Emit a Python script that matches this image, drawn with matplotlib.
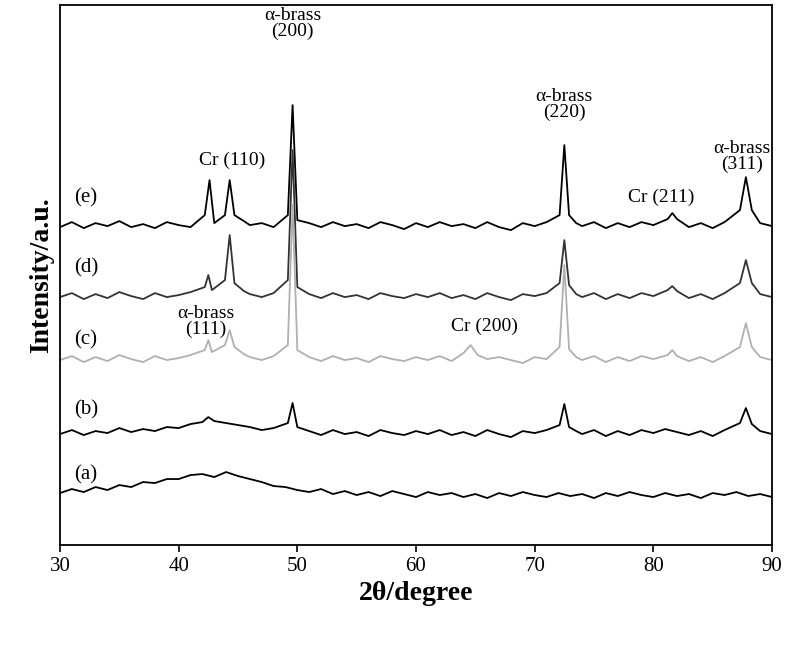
import matplotlib
matplotlib.use('Agg')
import matplotlib.pyplot as plt

plt.rcParams['font.family'] = ['Liberation Serif', 'DejaVu Serif']

# intensity in arbitrary units (offset traces)
x_e = [30, 31, 32, 33, 34, 35, 36, 37, 38, 39, 40, 41, 42.2, 42.6, 43.0, 43.9, 44.3, 44.7, 45.5, 46, 47, 48, 49.2, 49.6, 50.0, 51, 52, 53, 54, 55, 56, 57, 58, 59, 60, 61, 62, 63, 64, 65, 66, 67, 68, 69, 70, 71, 72.1, 72.5, 72.9, 73.5, 74, 75, 76, 77, 78, 79, 80, 81.2, 81.6, 82.0, 83, 84, 85, 86, 87.3, 87.8, 88.3, 89, 90]
y_e = [318, 323, 317, 322, 319, 324, 318, 321, 317, 323, 320, 318, 330, 365, 322, 330, 365, 330, 324, 320, 322, 318, 330, 440, 325, 322, 318, 323, 319, 321, 317, 323, 320, 316, 322, 318, 323, 319, 321, 317, 323, 318, 315, 322, 319, 323, 330, 400, 330, 322, 319, 323, 317, 322, 318, 323, 320, 326, 332, 326, 318, 322, 317, 323, 335, 368, 335, 322, 319]

x_d = [30, 31, 32, 33, 34, 35, 36, 37, 38, 39, 40, 41, 42.2, 42.5, 42.8, 43.9, 44.3, 44.7, 45.5, 46, 47, 48, 49.2, 49.6, 50.0, 51, 52, 53, 54, 55, 56, 57, 58, 59, 60, 61, 62, 63, 64, 65, 66, 67, 68, 69, 70, 71, 72.1, 72.5, 72.9, 73.5, 74, 75, 76, 77, 78, 79, 80, 81.2, 81.6, 82.0, 83, 84, 85, 86, 87.3, 87.8, 88.3, 89, 90]
y_d = [248, 252, 246, 251, 247, 253, 249, 246, 252, 248, 250, 253, 258, 270, 255, 265, 310, 262, 254, 251, 248, 252, 265, 395, 258, 251, 247, 252, 248, 250, 246, 252, 249, 247, 251, 248, 252, 247, 250, 246, 252, 248, 245, 251, 249, 252, 262, 305, 260, 251, 248, 252, 246, 251, 247, 252, 249, 255, 259, 254, 247, 251, 246, 252, 262, 285, 262, 251, 248]

x_c = [30, 31, 32, 33, 34, 35, 36, 37, 38, 39, 40, 41, 42.2, 42.5, 42.8, 43.9, 44.3, 44.7, 45.5, 46, 47, 48, 49.2, 49.6, 50.0, 51, 52, 53, 54, 55, 56, 57, 58, 59, 60, 61, 62, 63, 64, 64.6, 65.2, 66, 67, 68, 69, 70, 71, 72.1, 72.5, 72.9, 73.5, 74, 75, 76, 77, 78, 79, 80, 81.2, 81.6, 82.0, 83, 84, 85, 86, 87.3, 87.8, 88.3, 89, 90]
y_c = [185, 189, 183, 188, 184, 190, 186, 183, 189, 185, 187, 190, 195, 205, 193, 200, 215, 198, 191, 188, 185, 189, 200, 340, 195, 188, 184, 189, 185, 187, 183, 189, 186, 184, 188, 185, 189, 184, 192, 200, 190, 186, 188, 185, 182, 188, 186, 198, 280, 196, 188, 185, 189, 183, 188, 184, 189, 186, 190, 195, 189, 184, 188, 183, 189, 198, 222, 198, 188, 185]

x_b = [30, 31, 32, 33, 34, 35, 36, 37, 38, 39, 40, 41, 42, 42.5, 43, 44, 45, 46, 47, 48, 49.2, 49.6, 50.0, 51, 52, 53, 54, 55, 56, 57, 58, 59, 60, 61, 62, 63, 64, 65, 66, 67, 68, 69, 70, 71, 72.1, 72.5, 72.9, 73.5, 74, 75, 76, 77, 78, 79, 80, 81, 82, 83, 84, 85, 86, 87.3, 87.8, 88.3, 89, 90]
y_b = [111, 115, 110, 114, 112, 117, 113, 116, 114, 118, 117, 121, 123, 128, 124, 122, 120, 118, 115, 117, 122, 142, 118, 114, 110, 115, 111, 113, 109, 115, 112, 110, 114, 111, 115, 110, 113, 109, 115, 111, 108, 114, 112, 115, 120, 141, 118, 114, 111, 115, 109, 114, 110, 115, 112, 116, 113, 110, 114, 109, 115, 122, 137, 121, 114, 111]

x_a = [30, 31, 32, 33, 34, 35, 36, 37, 38, 39, 40, 41, 42, 43, 44, 45, 46, 47, 48, 49, 50, 51, 52, 53, 54, 55, 56, 57, 58, 59, 60, 61, 62, 63, 64, 65, 66, 67, 68, 69, 70, 71, 72, 73, 74, 75, 76, 77, 78, 79, 80, 81, 82, 83, 84, 85, 86, 87, 88, 89, 90]
y_a = [52, 56, 53, 58, 55, 60, 58, 63, 62, 66, 66, 70, 71, 68, 73, 69, 66, 63, 59, 58, 55, 53, 56, 51, 54, 50, 53, 49, 54, 51, 48, 53, 50, 52, 48, 51, 47, 52, 49, 53, 50, 48, 52, 49, 51, 47, 52, 49, 53, 50, 48, 52, 49, 51, 47, 52, 50, 53, 49, 51, 48]

series = [(x_e, y_e, 'black', '(e)', 347), (x_d, y_d, '#333333', '(d)', 277),
          (x_c, y_c, '#b0b0b0', '(c)', 205), (x_b, y_b, 'black', '(b)', 135),
          (x_a, y_a, 'black', '(a)', 70)]

# (text, x, y)
peak_labels = [
    ('α-brass\n(200)', 49.6, 522),
    ('Cr (110)', 44.5, 385),
    ('α-brass\n(220)', 72.5, 441),
    ('Cr (211)', 80.7, 348),
    ('α-brass\n(311)', 87.5, 389),
    ('α-brass\n(111)', 42.3, 224),
    ('Cr (200)', 65.8, 219),
]

fig = plt.figure(figsize=(8, 6.45), dpi=100)
ax = fig.add_axes([0.075, 0.155, 0.89, 0.837])

for x, y, c, lab, ly in series:
    ax.plot(x, y, color=c, linewidth=1.3)
    ax.text(32.2, ly, lab, fontsize=15, ha='center', va='center')

for t, x, y in peak_labels:
    ax.text(x, y, t, fontsize=14, ha='center', va='center', linespacing=0.9)

ax.set_xlim(30, 90)
ax.set_ylim(0, 540)
ax.set_yticks([])
ax.set_xticks([30, 40, 50, 60, 70, 80, 90])
ax.tick_params(axis='x', labelsize=15, width=1.2, length=5)
for s in ax.spines.values():
    s.set_linewidth(1.3)
ax.set_xlabel('2θ/degree', fontsize=20, fontweight='bold')
ax.set_ylabel('Intensity/a.u.', fontsize=20, fontweight='bold')

fig.savefig('out.png', dpi=100)
